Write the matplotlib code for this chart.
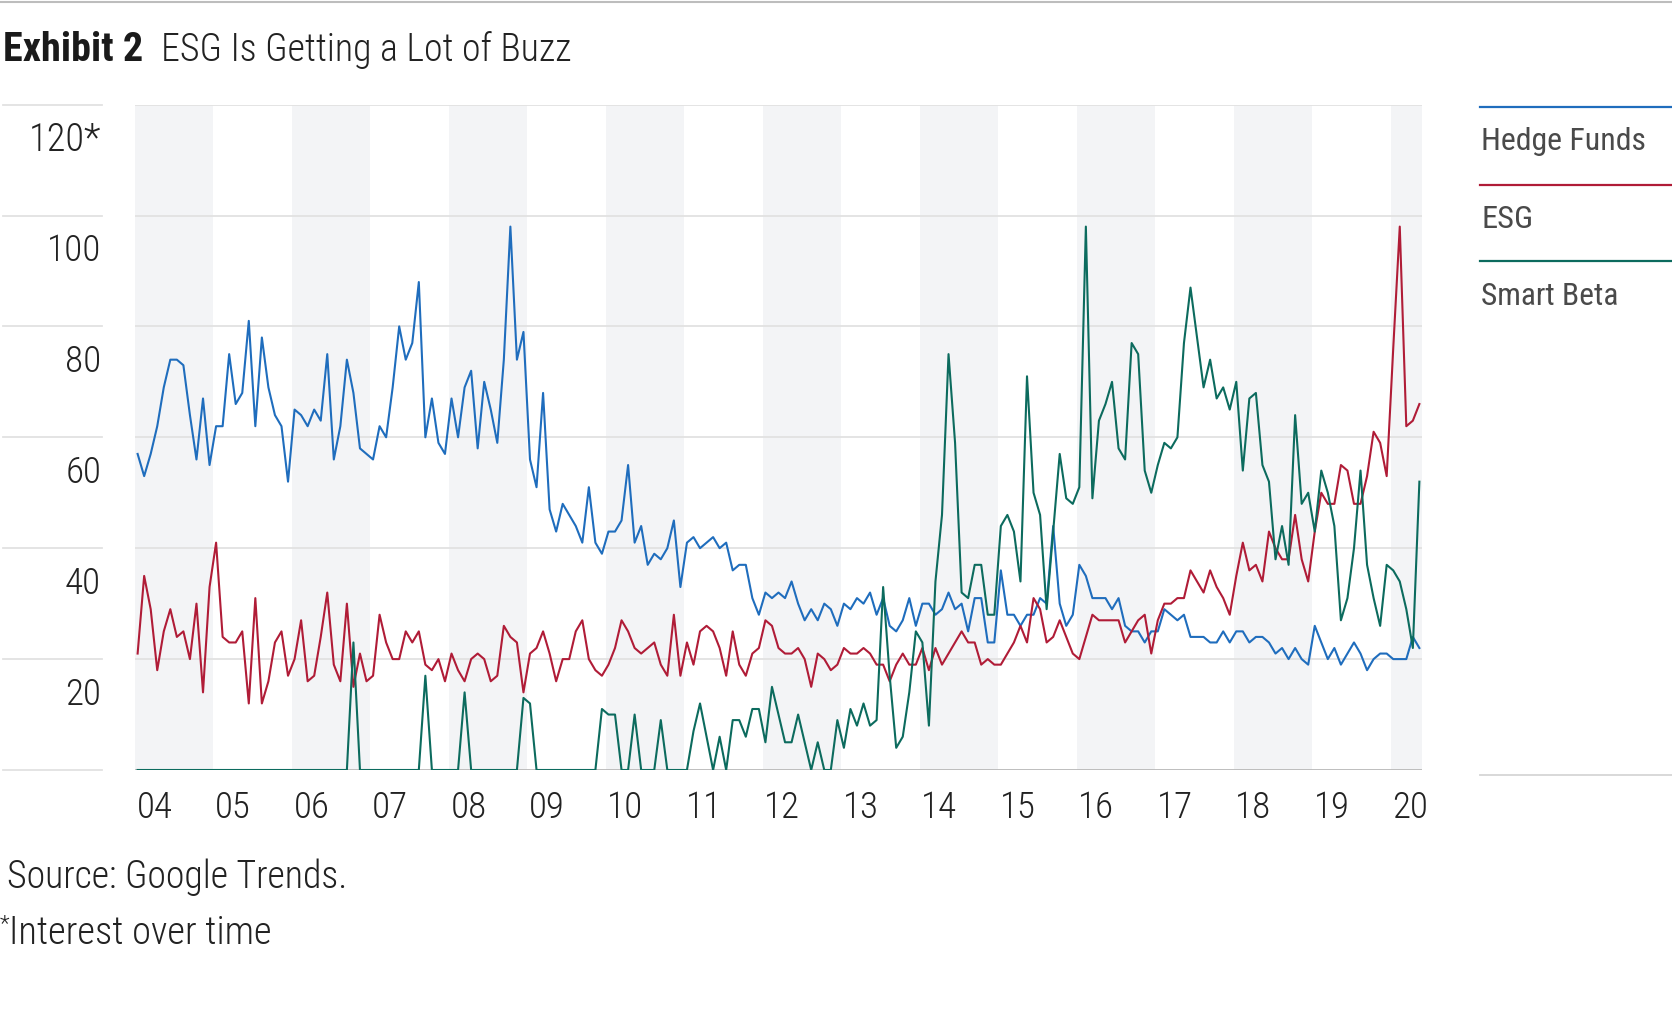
import matplotlib.pyplot as plt
import matplotlib.transforms as transforms
from matplotlib.lines import Line2D

plt.rcParams['font.family'] = ['Roboto Condensed', 'Liberation Sans Narrow',
                               'DejaVu Sans Condensed', 'Open Sans Condensed',
                               'DejaVu Sans']
plt.rcParams['font.stretch'] = 'condensed'

# Google Trends, monthly Jan 2004 - May 2020
years = list(range(2004, 2021))
year_labels = [str(y)[2:] for y in years]

hedge_funds = [57, 53, 57, 62, 69, 74, 74, 73, 64, 56, 67, 55,
               62, 62, 75, 66, 68, 81, 62, 78, 69, 64, 62, 52,
               65, 64, 62, 65, 63, 75, 56, 62, 74, 68, 58, 57,
               56, 62, 60, 69, 80, 74, 77, 88, 60, 67, 59, 57,
               67, 60, 69, 72, 58, 70, 65, 59, 74, 98, 74, 79,
               56, 51, 68, 47, 43, 48, 46, 44, 41, 51, 41, 39,
               43, 43, 45, 55, 41, 44, 37, 39, 38, 40, 45, 33,
               41, 42, 40, 41, 42, 40, 41, 36, 37, 37, 31, 28,
               32, 31, 32, 31, 34, 30, 27, 29, 27, 30, 29, 26,
               30, 29, 31, 30, 32, 28, 31, 26, 25, 27, 31, 26,
               30, 30, 28, 29, 32, 29, 30, 25, 31, 31, 23, 23,
               36, 28, 28, 26, 28, 28, 31, 30, 44, 30, 26, 28,
               37, 35, 31, 31, 31, 29, 31, 26, 25, 25, 23, 25,
               25, 29, 28, 27, 28, 24, 24, 24, 23, 23, 25, 23,
               25, 25, 23, 24, 24, 23, 21, 22, 20, 22, 20, 19,
               26, 23, 20, 22, 19, 21, 23, 21, 18, 20, 21, 21,
               20, 20, 20, 24, 22]

esg = [21, 35, 29, 18, 25, 29, 24, 25, 20, 30, 14, 33,
       41, 24, 23, 23, 25, 12, 31, 12, 16, 23, 25, 17,
       20, 27, 16, 17, 24, 32, 19, 16, 30, 15, 21, 16,
       17, 28, 23, 20, 20, 25, 23, 25, 19, 18, 20, 16,
       21, 18, 16, 20, 21, 20, 16, 17, 26, 24, 23, 14,
       21, 22, 25, 21, 16, 20, 20, 25, 27, 20, 18, 17,
       19, 22, 27, 25, 22, 21, 22, 23, 19, 17, 28, 17,
       23, 19, 25, 26, 25, 22, 17, 25, 19, 17, 21, 22,
       27, 26, 22, 21, 21, 22, 20, 15, 21, 20, 18, 19,
       22, 21, 21, 22, 21, 19, 19, 16, 19, 21, 19, 19,
       22, 18, 22, 19, 21, 23, 25, 23, 23, 19, 20, 19,
       19, 21, 23, 26, 23, 31, 29, 23, 24, 27, 24, 21,
       20, 24, 28, 27, 27, 27, 27, 23, 25, 27, 28, 21,
       27, 30, 30, 31, 31, 36, 34, 32, 36, 33, 31, 28,
       35, 41, 36, 37, 34, 43, 40, 38, 38, 46, 38, 34,
       43, 50, 48, 48, 55, 54, 48, 48, 53, 61, 59, 53,
       76, 98, 62, 63, 66]

smart_beta = [0, 0, 0, 0, 0, 0, 0, 0, 0, 0, 0, 0,
              0, 0, 0, 0, 0, 0, 0, 0, 0, 0, 0, 0,
              0, 0, 0, 0, 0, 0, 0, 0, 0, 23, 0, 0,
              0, 0, 0, 0, 0, 0, 0, 0, 17, 0, 0, 0,
              0, 0, 14, 0, 0, 0, 0, 0, 0, 0, 0, 13,
              12, 0, 0, 0, 0, 0, 0, 0, 0, 0, 0, 11,
              10, 10, 0, 0, 10, 0, 0, 0, 9, 0, 0, 0,
              0, 7, 12, 6, 0, 6, 0, 9, 9, 6, 11, 11,
              5, 15, 10, 5, 5, 10, 5, 0, 5, 0, 0, 9,
              4, 11, 8, 12, 8, 9, 33, 17, 4, 6, 14, 25,
              23, 8, 34, 46, 75, 59, 32, 31, 37, 37, 28, 28,
              44, 46, 43, 34, 71, 50, 46, 29, 43, 57, 49, 48,
              51, 98, 49, 63, 66, 70, 58, 56, 77, 75, 54, 50,
              55, 59, 58, 60, 77, 87, 78, 69, 74, 67, 69, 65,
              70, 54, 67, 68, 55, 52, 38, 44, 37, 64, 48, 50,
              43, 54, 50, 44, 27, 31, 40, 54, 37, 31, 26, 37,
              36, 34, 29, 22, 52]

series_names = ['Hedge Funds', 'ESG', 'Smart Beta']
series_colors = ['#1f6dbd', '#b01c37', '#0c6b5e']

y_ticks = [0, 20, 40, 60, 80, 100, 120]
y_labels = ['', '20', '40', '60', '80', '100', '120*']

W, H = 1672, 1012
months = [2004 + (i + 0.4) / 12 for i in range(len(hedge_funds))]
x_end = 2004 + 196.8 / 12

fig = plt.figure(figsize=(W / 100, H / 100), dpi=100)
ax = fig.add_axes([135 / W, 1 - 771 / H, (1422 - 135) / W, (771 - 105.6) / H])

# shaded year bands
for y in years:
    if y % 2 == 0:
        ax.axvspan(y, min(y + 1, x_end), color='#f3f4f6', lw=0, zorder=0)

for v in y_ticks[1:]:
    ax.axhline(v, color='#e2e2e2', lw=1.3, zorder=1)
ax.axhline(0, color='#b8b8b8', lw=2, zorder=1)

for vals, c in zip([hedge_funds, esg, smart_beta], series_colors):
    ax.plot(months, vals, color=c, lw=1.5, zorder=3)

ax.set_xlim(2004, x_end)
ax.set_ylim(0, 120)
ax.axis('off')

fitted = []  # (text, target width in px)

# y labels sit under their gridlines, left of the plot
trans_y = transforms.blended_transform_factory(fig.transFigure, ax.transData)
for v, lab in zip(y_ticks, y_labels):
    fig.add_artist(Line2D([3 / W, 102 / W], [v, v], transform=trans_y,
                          color='#e2e2e2', lw=1.3))
    if lab:
        t = fig.text(101 / W, v - 8.1, lab, transform=trans_y, ha='right',
                     va='baseline', fontsize=29, fontweight='light',
                     color='#222222')
        fitted.append((t, 18 * len(lab)))

trans_x = transforms.blended_transform_factory(ax.transData, fig.transFigure)
for y, lab in zip(years, year_labels):
    t = fig.text(y + 0.02, 1 - 818 / H, lab, transform=trans_x, ha='left',
                 va='baseline', fontsize=29, fontweight='light', color='#222222')
    fitted.append((t, 36))

# title
fig.add_artist(Line2D([0, 1], [1 - 3 / H, 1 - 3 / H], color='#bdbdbd', lw=1.5))
t_ex = fig.text(3 / W, 1 - 61 / H, 'Exhibit 2', fontsize=31, fontweight='bold',
                color='#1a1a1a', va='baseline')
t_ti = fig.text(158 / W, 1 - 61 / H, 'ESG Is Getting a Lot of Buzz', fontsize=31,
                fontweight='light', color='#222222', va='baseline')
fitted += [(t_ex, 140), (t_ti, 410)]

# legend
leg_lines = [108, 185.5, 262]
leg_text = [150, 228, 305]
leg_w = [165, 52, 138]
for name, c, ly, ty, lw_ in zip(series_names, series_colors, leg_lines, leg_text, leg_w):
    fig.add_artist(Line2D([1480 / W, 1], [1 - ly / H, 1 - ly / H], color=c, lw=1.6))
    t = fig.text(1481 / W, 1 - ty / H, name, fontsize=25, color='#4a4a4a',
                 va='baseline')
    fitted.append((t, lw_))
fig.add_artist(Line2D([1480 / W, 1], [1 - 776 / H, 1 - 776 / H], color='#d5d5d5', lw=1.3))

# notes
t1 = fig.text(7 / W, 1 - 888 / H, 'Source: Google Trends.', fontsize=29,
              fontweight='light', color='#222222', va='baseline')
fig.text(0 / W, 1 - 930 / H, '*', fontsize=16, fontweight='light',
         color='#222222', va='baseline')
t2 = fig.text(9 / W, 1 - 944 / H, 'Interest over time', fontsize=29,
              fontweight='light', color='#222222', va='baseline')
fitted += [(t1, 340), (t2, 262)]

# shrink any text that is wider than the reference
fig.canvas.draw()
renderer = fig.canvas.get_renderer()
for t, target in fitted:
    w = t.get_window_extent(renderer).width
    if w > target:
        t.set_fontsize(t.get_fontsize() * target / w)

# keep the title gap after the bold part
fig.canvas.draw()
bb = t_ex.get_window_extent(renderer)
t_ti.set_x((bb.x1 + 18) / W)

fig.savefig('out.png', dpi=100)
